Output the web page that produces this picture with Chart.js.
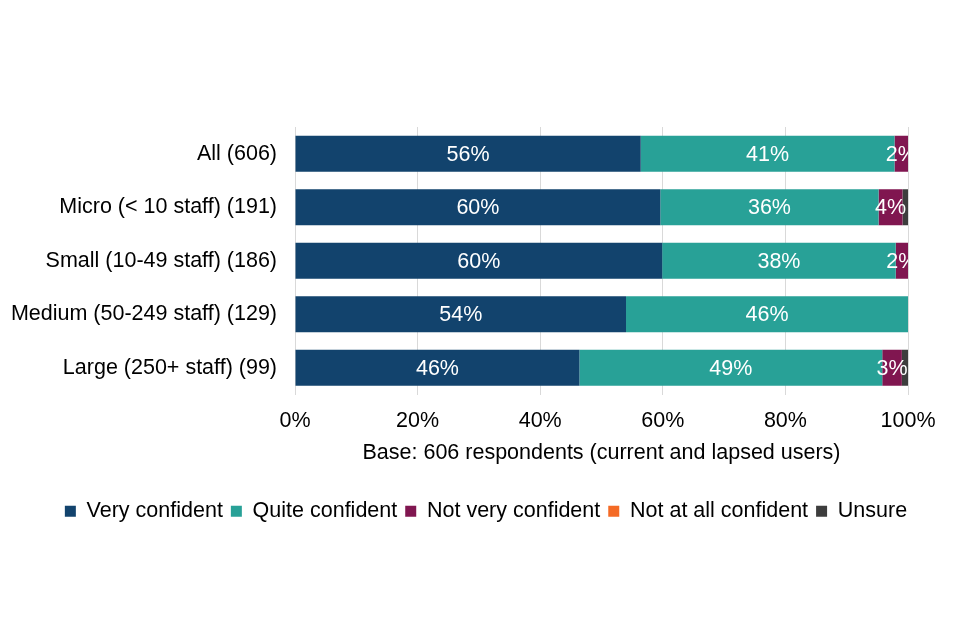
<!DOCTYPE html>
<html>
<head>
<meta charset="utf-8">
<script src="https://cdn.jsdelivr.net/npm/chart.js@4/dist/chart.umd.min.js"></script>
<style>
  html, body { margin: 0; padding: 0; background: #fff; }
  #wrap { width: 960px; height: 640px; }
</style>
</head>
<body>
<div id="wrap"><canvas id="chart"></canvas></div>
<script>
const categories = ['All (606)', 'Micro (< 10 staff) (191)', 'Small (10-49 staff) (186)', 'Medium (50-249 staff) (129)', 'Large (250+ staff) (99)'];
const veryConfident = [56.4, 59.6, 59.9, 54.0, 46.4];
const quiteConfident = [41.4, 35.6, 38.1, 46.0, 49.4];
const notVeryConfident = [2.2, 3.9, 2.0, 0, 3.2];
const notAtAllConfident = [0, 0, 0, 0, 0];
const unsure = [0, 0.9, 0, 0, 1.0];
const xTicks = ['0%', '20%', '40%', '60%', '80%', '100%'];

const font = "'Liberation Sans', Arial, sans-serif";
const fontSize = 21.5;

// white value labels in the middle of each segment
const segmentLabels = {
  id: 'segmentLabels',
  afterDatasetsDraw(chart) {
    const ctx = chart.ctx;
    const area = chart.chartArea;
    ctx.save();
    ctx.beginPath();
    ctx.rect(area.left, area.top, area.right - area.left, area.bottom - area.top);
    ctx.clip();
    ctx.fillStyle = '#fff';
    ctx.font = fontSize + 'px ' + font;
    ctx.textAlign = 'center';
    ctx.textBaseline = 'middle';
    chart.data.datasets.forEach((ds, i) => {
      chart.getDatasetMeta(i).data.forEach((bar, j) => {
        const v = Math.round(ds.data[j]);
        if (v < 2) return;
        const cx = (bar.x + bar.base) / 2;
        ctx.fillText(v + '%', cx, bar.y + 1);
      });
    });
    ctx.restore();
  }
};

// nudge the legend to the right, as in the original
const legendShift = {
  id: 'legendShift',
  afterLayout(chart) {
    if (chart.legend) {
      chart.legend.left += 32;
      chart.legend.right += 32;
    }
  }
};

new Chart(document.getElementById('chart'), {
  type: 'bar',
  data: {
    labels: categories,
    datasets: [
      { label: 'Very confident', data: veryConfident, backgroundColor: '#12436D' },
      { label: 'Quite confident', data: quiteConfident, backgroundColor: '#28A197' },
      { label: 'Not very confident', data: notVeryConfident, backgroundColor: '#801650' },
      { label: 'Not at all confident', data: notAtAllConfident, backgroundColor: '#F46A25' },
      { label: 'Unsure', data: unsure, backgroundColor: '#3D3D3D' }
    ]
  },
  options: {
    indexAxis: 'y',
    responsive: true,
    maintainAspectRatio: false,
    animation: false,
    datasets: { bar: { categoryPercentage: 1, barPercentage: 0.67 } },
    layout: { padding: { top: 127, left: 0, right: 52, bottom: 108 } },
    scales: {
      x: {
        stacked: true,
        min: 0,
        max: 100,
        grid: { color: '#d9d9d9', drawTicks: false },
        border: { display: false },
        ticks: {
          stepSize: 20,
          padding: 16,
          color: '#000',
          font: { family: font, size: fontSize, lineHeight: 1 },
          callback: (v, i) => xTicks[i]
        },
        title: {
          display: true,
          text: 'Base: 606 respondents (current and lapsed users)',
          color: '#000',
          font: { family: font, size: fontSize, lineHeight: 1 },
          padding: { top: -6, bottom: 29 }
        }
      },
      y: {
        stacked: true,
        grid: { display: false, drawTicks: false },
        border: { display: false },
        ticks: { color: '#000', padding: 18, font: { family: font, size: fontSize } },
        afterFit(scale) { scale.width = 295; }
      }
    },
    plugins: {
      legend: {
        position: 'bottom',
        labels: {
          boxWidth: 11,
          boxHeight: 11,
          padding: 8,
          color: '#000',
          font: { family: font, size: fontSize }
        }
      },
      tooltip: { enabled: false }
    }
  },
  plugins: [segmentLabels, legendShift]
});
</script>
</body>
</html>
